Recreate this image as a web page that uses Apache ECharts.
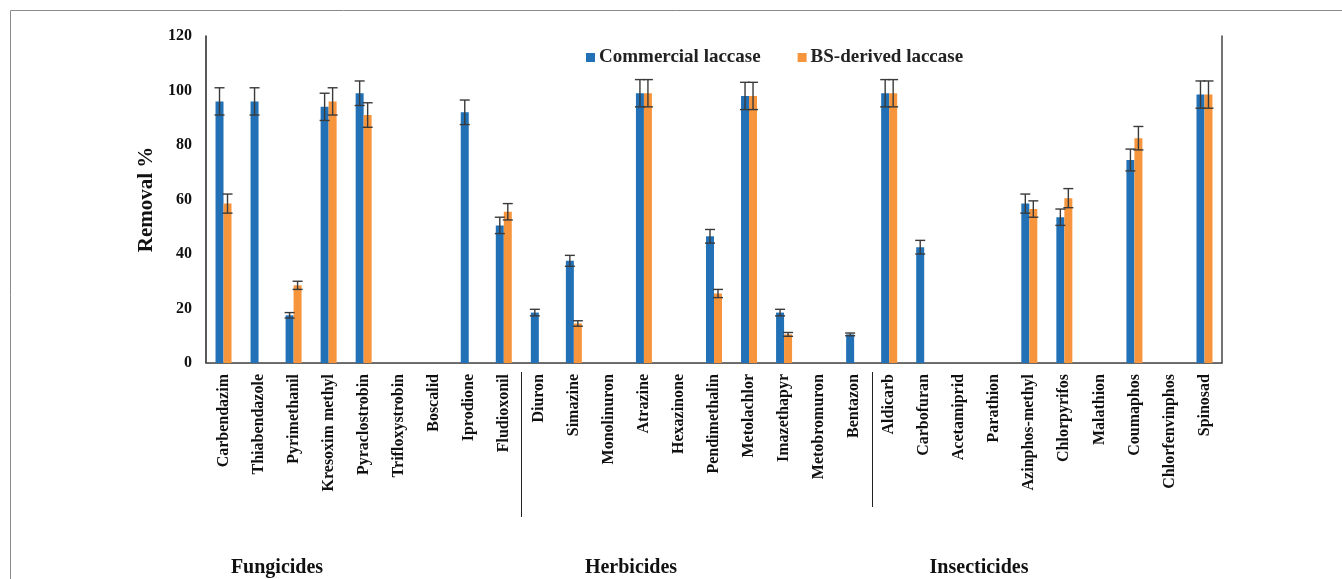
<!DOCTYPE html>
<html>
<head>
<meta charset="utf-8">
<script src="https://cdn.jsdelivr.net/npm/echarts@6/dist/echarts.min.js"></script>
<style>
  html, body { margin: 0; padding: 0; background: #fff; }
  #chart { width: 1342px; height: 579px; }
</style>
</head>
<body>
<div id="chart"></div>
<script>
// Pesticides tested, grouped as fungicides (0-8), herbicides (9-18), insecticides (19-28)
const categories = [
  'Carbendazim', 'Thiabendazole', 'Pyrimethanil', 'Kresoxim methyl', 'Pyraclostrobin',
  'Trifloxystrobin', 'Boscalid', 'Iprodione', 'Fludioxonil',
  'Diuron', 'Simazine', 'Monolinuron', 'Atrazine', 'Hexazinone', 'Pendimethalin',
  'Metolachlor', 'Imazethapyr', 'Metobromuron', 'Bentazon',
  'Aldicarb', 'Carbofuran', 'Acetamiprid', 'Parathion', 'Azinphos-methyl',
  'Chlorpyrifos', 'Malathion', 'Coumaphos', 'Chlorfenvinphos', 'Spinosad'
];

// Removal % (null = not removed / not shown)
const commercial = [96, 96, 17.5, 94, 99, null, null, 92, 50.5,
  18.5, 37.5, null, 99, null, 46.5, 98, 18.5, null, 10.5,
  99, 42.5, null, null, 58.5, 53.5, null, 74.5, null, 98.5];
const commercialErr = [5, 5, 1, 5, 4.5, null, null, 4.5, 3,
  1.2, 2, null, 5, null, 2.5, 5, 1.2, null, 0.5,
  5, 2.5, null, null, 3.5, 3, null, 4, null, 5];

const bsDerived = [58.5, null, 28.5, 96, 91, null, null, null, 55.5,
  null, 14.5, null, 99, null, 25.5, 98, 10.5, null, null,
  99, null, null, null, 56.5, 60.5, null, 82.5, null, 98.5];
const bsDerivedErr = [3.5, null, 1.5, 5, 4.5, null, null, null, 3,
  null, 1, null, 5, null, 1.5, 5, 0.7, null, null,
  5, null, null, null, 3, 3.5, null, 4.3, null, 5];

const yTicks = { min: 0, max: 120, interval: 20 };

// Category groups: [label, centre x in px]
const groups = [
  { name: 'Fungicides', x: 277 },
  { name: 'Herbicides', x: 631 },
  { name: 'Insecticides', x: 979 }
];

const BLUE = '#2271b6';
const ORANGE = '#f7953c';
const SERIF = '"Liberation Serif", "Times New Roman", serif';
const BAR_W = 8;

function errorSeries(values, errs, offset) {
  const data = values.map((v, i) => (v == null || errs[i] == null) ? null : [i, v - errs[i], v + errs[i]]);
  return {
    type: 'custom',
    z: 5,
    silent: true,
    data: data.filter(d => d),
    renderItem: function (params, api) {
      const i = api.value(0);
      const lo = api.coord([i, api.value(1)]);
      const hi = api.coord([i, api.value(2)]);
      const x = lo[0] + offset;
      const half = 5;
      const style = { stroke: '#3a3a3a', lineWidth: 1.4 };
      return {
        type: 'group',
        children: [
          { type: 'line', shape: { x1: x, y1: lo[1], x2: x, y2: hi[1] }, style },
          { type: 'line', shape: { x1: x - half, y1: hi[1], x2: x + half, y2: hi[1] }, style },
          { type: 'line', shape: { x1: x - half, y1: lo[1], x2: x + half, y2: lo[1] }, style }
        ]
      };
    }
  };
}

const chart = echarts.init(document.getElementById('chart'));

const option = {
  animation: false,
  backgroundColor: '#fff',
  textStyle: { fontFamily: SERIF },
  grid: { left: 206, right: 120, top: 36, bottom: 216 },
  legend: {
    left: 581,
    top: 43,
    itemWidth: 9,
    itemHeight: 9,
    itemGap: 37,
    icon: 'rect',
    textStyle: { fontFamily: SERIF, fontWeight: 'bold', fontSize: 19, color: '#222', padding: [0, 0, 0, -1] },
    data: ['Commercial laccase', 'BS-derived laccase']
  },
  xAxis: [
    {
      type: 'category',
      data: categories,
      axisLine: { show: true, lineStyle: { color: '#d4d4d4', width: 1 } },
      axisTick: { show: false },
      axisLabel: {
        interval: 0,
        rotate: 90,
        margin: 11,
        fontFamily: SERIF,
        fontWeight: 'bold',
        fontSize: 16,
        color: '#111'
      }
    },
    {
      type: 'category',
      position: 'top',
      data: categories,
      axisLine: { show: true, lineStyle: { color: '#444', width: 1.5 } },
      axisTick: { show: false },
      axisLabel: { show: false }
    }
  ],
  yAxis: [
    {
      type: 'value',
      min: yTicks.min,
      max: yTicks.max,
      interval: yTicks.interval,
      name: 'Removal %',
      nameLocation: 'middle',
      nameRotate: 90,
      nameGap: 43,
      nameTextStyle: { fontFamily: SERIF, fontWeight: 'bold', fontSize: 21, color: '#111' },
      splitLine: { show: false },
      axisLine: { show: true, lineStyle: { color: '#222', width: 1.5 } },
      axisTick: { show: false },
      axisLabel: { margin: 14, fontFamily: SERIF, fontWeight: 'bold', fontSize: 16, color: '#111' }
    },
    {
      type: 'value',
      position: 'right',
      min: yTicks.min,
      max: yTicks.max,
      interval: yTicks.interval,
      splitLine: { show: false },
      axisLine: { show: true, lineStyle: { color: '#444', width: 1.5 } },
      axisTick: { show: false },
      axisLabel: { show: false }
    }
  ],
  series: [
    {
      name: 'Commercial laccase',
      type: 'bar',
      data: commercial,
      barWidth: BAR_W,
      barGap: '0%',
      itemStyle: { color: BLUE }
    },
    {
      name: 'BS-derived laccase',
      type: 'bar',
      data: bsDerived,
      barWidth: BAR_W,
      barGap: '0%',
      itemStyle: { color: ORANGE }
    },
    errorSeries(commercial, commercialErr, -BAR_W / 2),
    errorSeries(bsDerived, bsDerivedErr, BAR_W / 2)
  ]
};

chart.setOption(option);

// Group separators sit midway between the last and first category of neighbouring groups
function boundaryX(a, b) {
  const xa = chart.convertToPixel({ xAxisIndex: 0 }, a);
  const xb = chart.convertToPixel({ xAxisIndex: 0 }, b);
  return Math.round((xa + xb) / 2) + 0.5;
}
const sep1 = boundaryX(8, 9);
const sep2 = boundaryX(18, 19);

chart.setOption({
  graphic: [
    // outer frame
    { type: 'rect', shape: { x: 10.5, y: 10.5, width: 1400, height: 700 },
      style: { fill: null, stroke: '#8a8a8a', lineWidth: 1 }, silent: true },
    { type: 'line', shape: { x1: sep1, y1: 372, x2: sep1, y2: 517 },
      style: { stroke: '#222', lineWidth: 1 }, silent: true },
    { type: 'line', shape: { x1: sep2, y1: 372, x2: sep2, y2: 507 },
      style: { stroke: '#222', lineWidth: 1 }, silent: true }
  ].concat(groups.map(g => ({
    type: 'text',
    x: g.x,
    y: 568,
    silent: true,
    style: {
      text: g.name,
      align: 'center',
      verticalAlign: 'middle',
      font: 'bold 20px ' + SERIF,
      fill: '#111'
    }
  })))
});
</script>
</body>
</html>
